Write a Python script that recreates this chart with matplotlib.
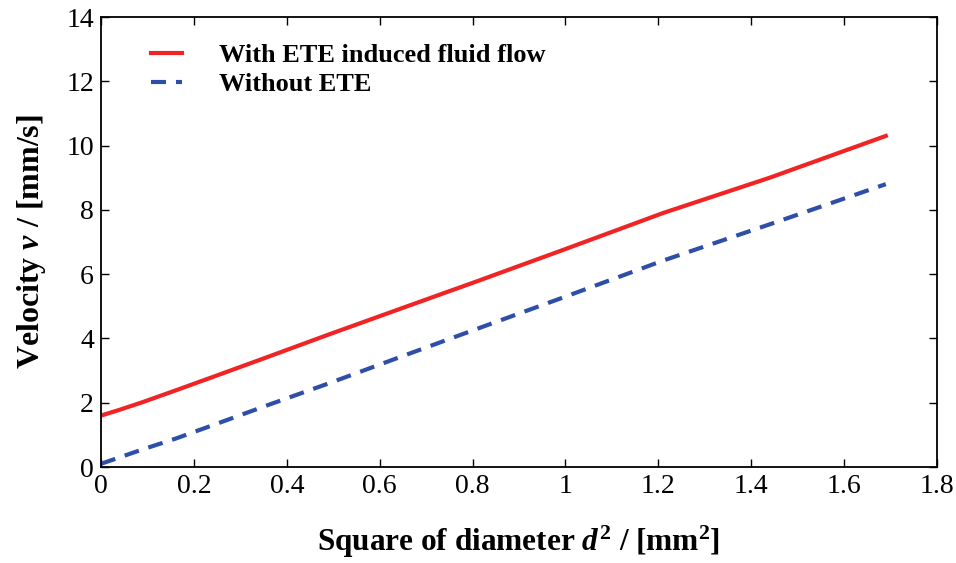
import matplotlib
matplotlib.use('Agg')
import matplotlib.pyplot as plt

# d^2 values (d = 0, 0.2, ... 1.3 mm)
d2 = [0, 0.04, 0.09, 0.16, 0.25, 0.36, 0.49, 0.64, 0.81, 1.0, 1.21, 1.44, 1.69]
v_ete = [1.6, 1.78, 2.02, 2.38, 2.85, 3.43, 4.12, 4.9, 5.78, 6.78, 7.9, 9.0, 10.3]
v_no_ete = [0.1, 0.3, 0.55, 0.88, 1.35, 1.93, 2.6, 3.4, 4.3, 5.3, 6.42, 7.55, 8.8]

xticks = [0, 0.2, 0.4, 0.6, 0.8, 1, 1.2, 1.4, 1.6, 1.8]
xticklabels = ['0', '0.2', '0.4', '0.6', '0.8', '1', '1.2', '1.4', '1.6', '1.8']
yticks = [0, 2, 4, 6, 8, 10, 12, 14]

plt.rcParams['font.family'] = ['Liberation Serif', 'DejaVu Serif']
plt.rcParams['mathtext.fontset'] = 'custom'
plt.rcParams['mathtext.rm'] = 'Liberation Serif:bold'
plt.rcParams['mathtext.it'] = 'Liberation Serif:italic:bold'
plt.rcParams['mathtext.bf'] = 'Liberation Serif:bold'

fig = plt.figure(figsize=(9.56, 5.63), dpi=100)
ax = fig.add_axes([0.1057, 0.1705, 0.8743, 0.7993])

ax.plot(d2, v_ete, color='#f02424', lw=3, label='With ETE induced fluid flow')
ax.plot(d2, v_no_ete, color='#2e4ea8', lw=3, dashes=(3.6, 2.4), label='Without ETE')

ax.set_xlim(0, 1.8)
ax.set_ylim(0, 14)
ax.set_xticks(xticks)
ax.set_xticklabels(xticklabels)
ax.set_yticks(yticks)
ax.tick_params(direction='in', length=6, width=1, top=True, right=True,
               labelsize=20, pad=5)
for s in ax.spines.values():
    s.set_linewidth(1.3)

ax.set_xlabel(r'Square of diameter $d^2$ / [mm$^2$]', fontsize=22.5,
              fontweight='bold', labelpad=18)
ax.set_ylabel(r'Velocity $v$ / [mm/s]', fontsize=23, fontweight='bold',
              labelpad=13)

leg = ax.legend(loc='upper left', bbox_to_anchor=(0.031, 0.993), frameon=False,
                prop={'size': 19, 'weight': 'bold'}, handlelength=1.2,
                handletextpad=1.4, labelspacing=0.2)

fig.savefig('out.png', dpi=100)
